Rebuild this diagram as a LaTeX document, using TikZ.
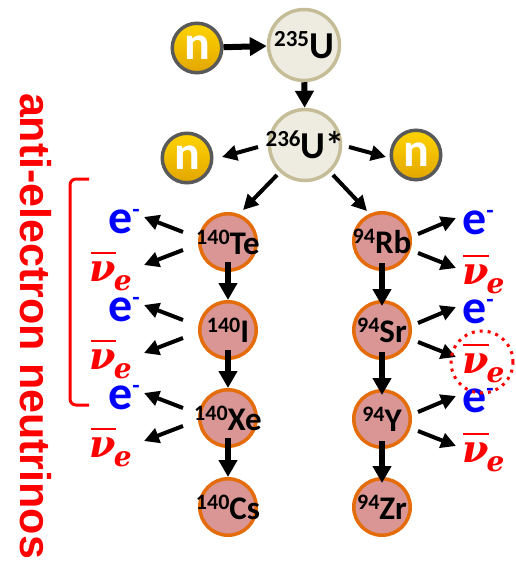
\documentclass[tikz,border=0pt]{standalone}
\usepackage{fontspec}
\setmainfont{Carlito}
\newfontfamily\sidefont{Liberation Sans}
\newfontfamily\nufont{DejaVu Serif}
\usetikzlibrary{arrows.meta,calc}

\definecolor{nucfill}{HTML}{D99694}
\definecolor{nucline}{HTML}{E46C0A}
\definecolor{ufill}{HTML}{EEECE1}
\definecolor{uline}{HTML}{C4BD97}
\definecolor{ntop}{HTML}{FFD400}
\definecolor{nbot}{HTML}{E2A600}
\definecolor{nline}{HTML}{595959}
\definecolor{eblue}{HTML}{0000FF}
\definecolor{nured}{HTML}{FF0000}

% isotope label: mass number raised before the element symbol
\newcommand\iso[2]{\bfseries\raisebox{10pt}{\fontsize{22}{22}\selectfont #1}{\fontsize{33}{33}\selectfont #2}}
\newcommand\isoU[2]{\bfseries\raisebox{12pt}{\fontsize{23}{23}\selectfont #1}{\fontsize{38}{38}\selectfont #2}}
% electron e^-
\newcommand\elec{\bfseries\fontsize{48}{48}\selectfont e\raisebox{16pt}{\fontsize{24}{24}\selectfont -}}
% electron antineutrino
\newcommand\antinu{\begingroup\nufont\bfseries\itshape\fontsize{38}{38}\selectfont
  \setbox0=\hbox{ν}%
  \rlap{\kern1pt\raisebox{27pt}{\rule{\dimexpr\wd0-1pt\relax}{2pt}}}\box0
  \kern-2pt\raisebox{-9pt}{\fontsize{28}{28}\selectfont e}\endgroup}
% neutron letter, set a little low in its disc
\newcommand\neutron{\raisebox{-2pt}{n}}

\tikzset{
  nucl/.style={circle, draw=nucline, fill=nucfill, line width=3.5pt, minimum size=56.5pt, inner sep=0pt},
  ura/.style={circle, draw=uline, fill=ufill, line width=3.5pt, minimum size=71pt, inner sep=0pt},
  neut/.style={circle, draw=nline, top color=ntop, bottom color=nbot, line width=3.5pt,
    minimum size=49.5pt, inner sep=0pt, text=white, font=\bfseries\fontsize{48}{48}\selectfont},
  lbl/.style={inner sep=0pt, text=black},
  arrT/.style={line width=6pt, -{Triangle[length=17pt,width=18pt]}},
  arr/.style={line width=4pt, -{Triangle[length=15pt,width=15pt]}},
  elab/.style={inner sep=0pt, text=eblue},
  nulab/.style={inner sep=0pt, text=nured},
  ring/.style={circle, draw=nured, line width=3pt, dash pattern=on 3pt off 5pt, minimum size=62pt, inner sep=0pt},
}

\begin{document}
\begin{tikzpicture}[x=1pt,y=-1pt]
\useasboundingbox (0,0) rectangle (515,564);

% side caption and bracket
\node[rotate=-90, inner sep=0pt, text=nured, font={\sidefont\bfseries\fontsize{43}{43}\selectfont}] (side) at (36,326) {anti-electron neutrinos};
\draw[nured, line width=3pt, rounded corners=6pt] (89,179) -- (70,179) -- (70,405) -- (89,405);

% fission stage
\node[neut] (n0) at (197,48) {\neutron};
\node[ura] (U235) at (304,45) {};
\node[lbl] (U235t) at (U235) {\isoU{235}{U}};
\node[ura] (U236) at (305,145) {};
\node[lbl] (U236t) at (U236) {\isoU{236}{U*}};
\node[neut] (nL) at (187,158) {\neutron};
\node[neut] (nR) at (416,155) {\neutron};

% decay chains
\foreach \nm/\y in {Te/242, I/330, Xe/418, Cs/507}
  \node[nucl] (\nm) at (228,\y) {};
\foreach \nm/\y in {Rb/241, Sr/330, Y/419, Zr/507}
  \node[nucl] (\nm) at (382,\y) {};
\node[lbl] (Tet) at (Te) {\iso{140}{Te}};
\node[lbl] (It)  at (I)  {\iso{140}{I}};
\node[lbl] (Xet) at (Xe) {\iso{140}{Xe}};
\node[lbl] (Cst) at (Cs) {\iso{140}{Cs}};
\node[lbl] (Rbt) at (Rb) {\iso{94}{Rb}};
\node[lbl] (Srt) at (Sr) {\iso{94}{Sr}};
\node[lbl] (Yt)  at (Y)  {\iso{94}{Y}};
\node[lbl] (Zrt) at (Zr) {\iso{94}{Zr}};

% beta-decay products, left chain
\foreach \nm/\y in {Te/242, I/330, Xe/418} {
  \node[elab, anchor=base east] (e\nm) at (140,\y-9) {\elec};
  \node[nulab, anchor=base east] (v\nm) at (132,\y+39) {\antinu};
  \draw[arr] ([shift={(-45,-10)}]\nm.center) -- ([shift={(4,-16)}]e\nm.base east);
  \draw[arr] ([shift={(-45,8)}]\nm.center) -- ([shift={(12,-16)}]v\nm.base east);
}
% beta-decay products, right chain
\foreach \nm/\y in {Rb/241, Sr/330, Y/419} {
  \node[elab, anchor=base west] (e\nm) at (462,\y-7) {\elec};
  \node[nulab, anchor=base west] (v\nm) at (462,\y+43) {\antinu};
  \draw[arr] ([shift={(36,-7)}]\nm.center) -- ([shift={(-6,-16)}]e\nm.base west);
  \draw[arr] ([shift={(36,12)}]\nm.center) -- ([shift={(-6,-16)}]v\nm.base west);
}
\node[ring] (mark) at (482,362) {};

% fission arrows
\draw[arrT] (n0) -- (U235);
\draw[arrT] (U235) -- (U236);
\draw[arr] ([shift={(-47,2)}]U236.center) -- ([shift={(35,-1)}]nL.center);
\draw[arr] ([shift={(44,2)}]U236.center) -- ([shift={(-30,2)}]nR.center);
\draw[arr] ([shift={(-28,30)}]U236.center) -- ([shift={(15,-32)}]Te.center);
\draw[arr] ([shift={(28,30)}]U236.center) -- ([shift={(-15,-30)}]Rb.center);

% decay arrows
\draw[arrT, shorten <=-10pt] (Te) -- (I);
\draw[arrT, shorten <=-10pt] (I) -- (Xe);
\draw[arrT, shorten <=-10pt] (Xe) -- (Cs);
\draw[arrT, shorten <=-8pt, shorten >=-6pt] (Rb) -- (Sr);
\draw[arrT, shorten <=-8pt, shorten >=-6pt] (Sr) -- (Y);
\draw[arrT, shorten <=-8pt, shorten >=-6pt] (Y) -- (Zr);
\end{tikzpicture}
\end{document}
